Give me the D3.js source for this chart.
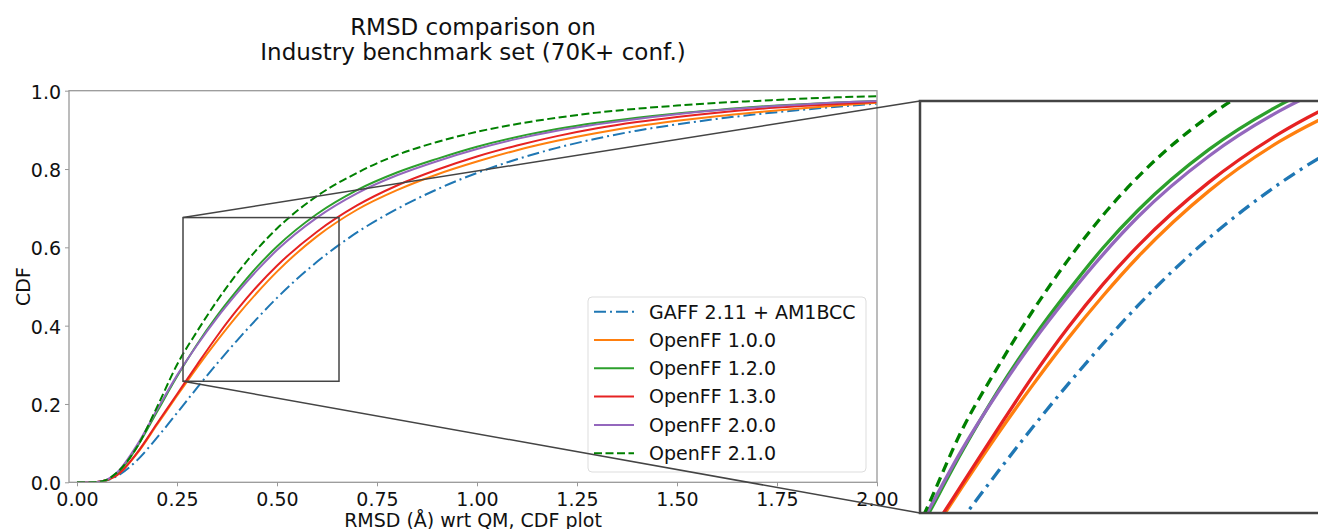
<!DOCTYPE html>
<html>
<head>
<meta charset="utf-8">
<script src="https://cdn.jsdelivr.net/npm/d3@7"></script>
<style>
  body { margin: 0; background: #fff; }
  text { font-family: "DejaVu Sans", sans-serif; fill: #111; }
</style>
</head>
<body>
<svg id="chart" width="1318" height="529"></svg>
<script>
// RMSD grid (Å) and CDF values
var rmsd    = [0, 0.05, 0.075, 0.1, 0.15, 0.2, 0.25, 0.3, 0.35, 0.4, 0.45, 0.5, 0.6, 0.7, 0.8, 0.9, 1.0, 1.1, 1.2, 1.3, 1.4, 1.5, 1.6, 1.7, 1.8, 1.9, 2.0];
var gaff    = [0, 0.001, 0.005, 0.016, 0.056, 0.114, 0.177, 0.241, 0.303, 0.362, 0.418, 0.471, 0.563, 0.638, 0.698, 0.748, 0.790, 0.825, 0.854, 0.878, 0.898, 0.914, 0.928, 0.940, 0.950, 0.959, 0.967];
var off100  = [0, 0.001, 0.006, 0.018, 0.073, 0.147, 0.221, 0.293, 0.361, 0.425, 0.484, 0.538, 0.628, 0.696, 0.746, 0.786, 0.819, 0.848, 0.872, 0.892, 0.909, 0.923, 0.935, 0.945, 0.954, 0.962, 0.969];
var off120  = [0, 0.001, 0.006, 0.022, 0.090, 0.180, 0.270, 0.352, 0.425, 0.490, 0.550, 0.602, 0.685, 0.746, 0.791, 0.826, 0.857, 0.882, 0.902, 0.918, 0.931, 0.942, 0.951, 0.959, 0.965, 0.970, 0.974];
var off130  = [0, 0.001, 0.006, 0.018, 0.075, 0.150, 0.225, 0.300, 0.373, 0.440, 0.500, 0.553, 0.640, 0.707, 0.758, 0.798, 0.832, 0.860, 0.884, 0.904, 0.920, 0.933, 0.944, 0.953, 0.960, 0.966, 0.971];
var off200  = [0, 0.001, 0.007, 0.025, 0.095, 0.185, 0.273, 0.350, 0.420, 0.483, 0.541, 0.593, 0.676, 0.738, 0.784, 0.820, 0.851, 0.877, 0.898, 0.914, 0.928, 0.940, 0.950, 0.958, 0.964, 0.970, 0.974];
var off210  = [0, 0.001, 0.007, 0.025, 0.090, 0.192, 0.300, 0.385, 0.463, 0.533, 0.595, 0.648, 0.731, 0.790, 0.836, 0.869, 0.895, 0.915, 0.931, 0.944, 0.954, 0.962, 0.969, 0.974, 0.979, 0.983, 0.986];

var seriesNames = ["GAFF 2.11 + AM1BCC", "OpenFF 1.0.0", "OpenFF 1.2.0", "OpenFF 1.3.0", "OpenFF 2.0.0", "OpenFF 2.1.0"];
var seriesValues = [gaff, off100, off120, off130, off200, off210];
var seriesColors = ["#1f77b4", "#ff7f0e", "#2ca02c", "#e62222", "#9467bd", "#008000"];
var seriesDash   = ["12,4,2,4", null, null, null, null, "8,3.5"];
var insetDash    = ["13,6,3,6", null, null, null, null, "10,6"];

var xTicks = [0, 0.25, 0.5, 0.75, 1.0, 1.25, 1.5, 1.75, 2.0];
var yTicks = [0, 0.2, 0.4, 0.6, 0.8, 1.0];

// region that the inset enlarges
var boxX = [0.265, 0.655];
var boxY = [0.258, 0.676];
// limits of the enlarged panel
var insetX = [0.19, 0.775];
var insetY = [0.185, 0.752];

var titleLines = ["RMSD comparison on", "Industry benchmark set (70K+ conf.)"];

var svg = d3.select("#chart");

var x = d3.scaleLinear().domain([-0.02, 2.0]).range([69, 877]);
var y = d3.scaleLinear().domain([0, 1]).range([482.3, 90.7]);

var ix = d3.scaleLinear().domain(insetX).range([920, 1332]);
var iy = d3.scaleLinear().domain(insetY).range([513, 101]);

var defs = svg.append("defs");
defs.append("clipPath").attr("id", "clipMain").append("rect")
    .attr("x", 69).attr("y", 90.7).attr("width", 808).attr("height", 391.6);
defs.append("clipPath").attr("id", "clipInset").append("rect")
    .attr("x", 920).attr("y", 101).attr("width", 412).attr("height", 412);

//Title
svg.selectAll(".title").data(titleLines).enter().append("text")
    .attr("class", "title")
    .attr("x", 473)
    .attr("y", function (d, i) { return 35 + i * 25; })
    .attr("text-anchor", "middle")
    .style("font-size", "23px")
    .text(function (d) { return d; });

//Axes
var xAxis = svg.append("g")
    .attr("transform", "translate(0,482.3)")
    .call(d3.axisBottom(x).tickValues(xTicks).tickFormat(d3.format(".2f")).tickSize(4).tickSizeOuter(0));
var yAxis = svg.append("g")
    .attr("transform", "translate(69,0)")
    .call(d3.axisLeft(y).tickValues(yTicks).tickFormat(d3.format(".1f")).tickSize(4).tickSizeOuter(0));

[xAxis, yAxis].forEach(function (a) {
    a.select(".domain").remove();
    a.selectAll(".tick line").attr("stroke", "#999");
    a.selectAll(".tick text").style("font-size", "19px").attr("fill", "#111")
        .style("font-family", "DejaVu Sans, sans-serif");
});
xAxis.selectAll(".tick text").attr("dy", "0.9em");
yAxis.selectAll(".tick text").attr("dx", "-0.05em").attr("dy", "0.4em");

svg.append("text")
    .attr("x", 473).attr("y", 526.5)
    .attr("text-anchor", "middle")
    .style("font-size", "19px")
    .text("RMSD (Å) wrt QM, CDF plot");

svg.append("text")
    .attr("transform", "translate(30,286.5) rotate(-90)")
    .attr("text-anchor", "middle")
    .style("font-size", "19px")
    .text("CDF");

//Lines
var line = d3.line()
    .x(function (d, i) { return x(rmsd[i]); })
    .y(function (d) { return y(d); })
    .curve(d3.curveMonotoneX);

svg.append("g").attr("clip-path", "url(#clipMain)")
    .selectAll("path").data(seriesValues).enter().append("path")
    .attr("d", line)
    .attr("fill", "none")
    .attr("stroke", function (d, i) { return seriesColors[i]; })
    .attr("stroke-width", 2)
    .attr("stroke-dasharray", function (d, i) { return seriesDash[i]; });

//Frame
svg.append("rect")
    .attr("x", 69).attr("y", 90.7).attr("width", 808).attr("height", 391.6)
    .attr("fill", "none").attr("stroke", "#999").attr("stroke-width", 1.3);

//Legend
var legend = svg.append("g").attr("transform", "translate(588,297)");
legend.append("rect")
    .attr("width", 278).attr("height", 175).attr("rx", 4)
    .attr("fill", "#fff").attr("fill-opacity", 0.8)
    .attr("stroke", "#ddd").attr("stroke-width", 1);
var entry = legend.selectAll(".entry").data(seriesNames).enter().append("g")
    .attr("class", "entry")
    .attr("transform", function (d, i) { return "translate(0," + (14.7 + i * 28.3) + ")"; });
entry.append("line")
    .attr("x1", 6).attr("x2", 46)
    .attr("stroke", function (d, i) { return seriesColors[i]; })
    .attr("stroke-width", 2)
    .attr("stroke-dasharray", function (d, i) { return seriesDash[i]; });
entry.append("text")
    .attr("x", 61).attr("dy", "0.36em")
    .style("font-size", "19px")
    .text(function (d) { return d; });

//Zoom box and connectors
svg.append("rect")
    .attr("x", x(boxX[0])).attr("y", y(boxY[1]))
    .attr("width", x(boxX[1]) - x(boxX[0]))
    .attr("height", y(boxY[0]) - y(boxY[1]))
    .attr("fill", "none").attr("stroke", "#444").attr("stroke-width", 1.5);

svg.append("line")
    .attr("x1", x(boxX[0])).attr("y1", y(boxY[1]))
    .attr("x2", ix.range()[0]).attr("y2", iy.range()[1])
    .attr("stroke", "#444").attr("stroke-width", 1.5);
svg.append("line")
    .attr("x1", x(boxX[0])).attr("y1", y(boxY[0]))
    .attr("x2", ix.range()[0]).attr("y2", iy.range()[0])
    .attr("stroke", "#444").attr("stroke-width", 1.5);

//Inset
var insetLine = d3.line()
    .x(function (d, i) { return ix(rmsd[i]); })
    .y(function (d) { return iy(d); })
    .curve(d3.curveMonotoneX);

svg.append("rect")
    .attr("x", 920).attr("y", 101).attr("width", 412).attr("height", 412)
    .attr("fill", "#fff");

svg.append("g").attr("clip-path", "url(#clipInset)")
    .selectAll("path").data(seriesValues).enter().append("path")
    .attr("d", insetLine)
    .attr("fill", "none")
    .attr("stroke", function (d, i) { return seriesColors[i]; })
    .attr("stroke-width", 3.3)
    .attr("stroke-dasharray", function (d, i) { return insetDash[i]; });

svg.append("rect")
    .attr("x", 920).attr("y", 101).attr("width", 412).attr("height", 412)
    .attr("fill", "none").attr("stroke", "#444").attr("stroke-width", 2.5);
</script>
</body>
</html>
